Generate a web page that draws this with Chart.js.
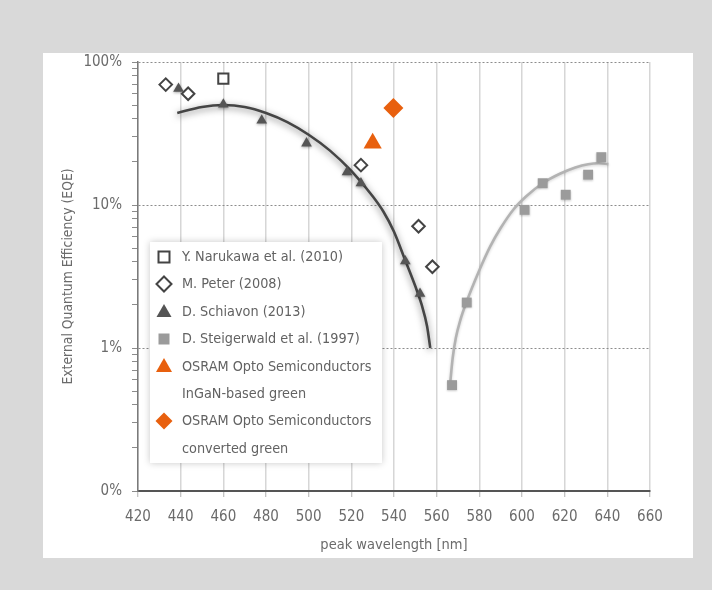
<!DOCTYPE html>
<html>
<head>
<meta charset="utf-8">
<script src="https://cdn.jsdelivr.net/npm/chart.js@4/dist/chart.umd.min.js"></script>
<style>
  html, body { margin: 0; padding: 0; }
  body { width: 712px; height: 590px; background: #d9d9d9; position: relative; overflow: hidden;
         font-family: 'DejaVu Sans Condensed', 'Liberation Sans Narrow', sans-serif; }
  #panel { position: absolute; left: 43px; top: 53px; width: 650px; height: 505px; background: #fff; }
  #chart { position: absolute; left: 0; top: 0; }
  #legend { position: absolute; left: 150px; top: 242px; width: 232px; padding-top: 1px; padding-bottom: 1px;
            background: #fff; box-shadow: 0 0 7px rgba(0,0,0,0.22); }
  .row { position: relative; height: 27.4px; line-height: 27.4px; font-size: 14.3px; color: #626262; padding-left: 32px; white-space: nowrap; }
  .row svg { position: absolute; left: 4px; top: 3.7px; }
</style>
</head>
<body>
<div id="panel"></div>
<canvas id="chart" width="712" height="590"></canvas>
<div id="legend"></div>
<script>
// Series names
const seriesNames = [
  ['Y. Narukawa et al. (2010)'],
  ['M. Peter (2008)'],
  ['D. Schiavon (2013)'],
  ['D. Steigerwald et al. (1997)'],
  ['OSRAM Opto Semiconductors', 'InGaN-based green'],
  ['OSRAM Opto Semiconductors', 'converted green']
];

// Peak wavelength [nm] and EQE [%] per source
const narukawaNm = [460];
const narukawaEqe = [76.5];

const peterNm = [433, 443.5, 524.5, 551.5, 558];
const peterEqe = [69.5, 60, 19, 7.1, 3.7];

const schiavonNm = [439, 460, 478, 499, 518, 524.5, 545.3, 552.2];
const schiavonEqe = [65, 50.5, 39, 27, 17, 14.2, 4.05, 2.4];

const steigerwaldNm = [567.2, 574.1, 601.2, 609.7, 620.5, 631, 637.2];
const steigerwaldEqe = [0.55, 2.08, 9.25, 14.2, 11.8, 16.3, 21.6];

const osramInganNm = [530];
const osramInganEqe = [27];

const osramConvertedNm = [539.7];
const osramConvertedEqe = [47.7];

// Trend curves (InGaN and AlInGaP)
const blueTrendNm = [438.4, 450, 460, 470, 480, 490, 500, 510, 520, 530, 535, 540, 545, 550, 553, 555.5, 557];
const blueTrendEqe = [44, 48.5, 50, 48.5, 44, 38, 31, 24, 17.3, 11.5, 9.0, 6.5, 4.2, 2.7, 2.0, 1.42, 1.0];

const redTrendNm = [566.3, 567.5, 569, 571, 574, 580, 585, 590, 596, 602, 610, 618, 625, 631, 636, 640.5];
const redTrendEqe = [0.56, 0.85, 1.18, 1.55, 2.1, 3.5, 5.1, 6.9, 9.3, 11.5, 14.3, 16.6, 18.3, 19.3, 19.6, 19.3];

// Axes
const xMin = 420, xMax = 660, xStep = 20;
const yTickValues = [0.1, 1, 10, 100];
const yTickLabels = ['0%', '1%', '10%', '100%'];

const FONT = "'DejaVu Sans Condensed', 'Liberation Sans Narrow', sans-serif";
const ORANGE = '#e8600e';
const TEXT = '#6b6b6b';

const pts = (xs, ys) => xs.map((x, i) => ({ x, y: ys[i] }));
const isMajor = v => yTickValues.some(t => Math.abs(t - v) / t < 1e-6);

// Soft drop shadow for selected datasets
const shadowPlugin = {
  id: 'datasetShadow',
  beforeDatasetDraw(chart, args) {
    const s = chart.data.datasets[args.index].shadow;
    if (!s) return;
    const ctx = chart.ctx;
    ctx.save();
    ctx.shadowColor = s.color;
    ctx.shadowBlur = s.blur;
    ctx.shadowOffsetX = 0;
    ctx.shadowOffsetY = s.dy;
  },
  afterDatasetDraw(chart, args) {
    if (chart.data.datasets[args.index].shadow) chart.ctx.restore();
  }
};

const chart = new Chart(document.getElementById('chart'), {
  type: 'scatter',
  data: {
    datasets: [
      { label: seriesNames[0].join(' '), data: pts(narukawaNm, narukawaEqe), order: 1,
        pointStyle: 'rect', pointRadius: 7.2, backgroundColor: '#ffffff', borderColor: '#444444', borderWidth: 2 },
      { label: seriesNames[1].join(' '), data: pts(peterNm, peterEqe), order: 1,
        pointStyle: 'rectRot', pointRadius: 6.3, backgroundColor: '#ffffff', borderColor: '#444444', borderWidth: 2 },
      { label: seriesNames[2].join(' '), data: pts(schiavonNm, schiavonEqe), order: 1,
        pointStyle: 'triangle', pointRadius: 6.2, backgroundColor: '#555555', borderColor: '#555555', borderWidth: 0,
        shadow: { color: 'rgba(0,0,0,0.35)', blur: 3, dy: 1 } },
      { label: seriesNames[3].join(' '), data: pts(steigerwaldNm, steigerwaldEqe), order: 1,
        pointStyle: 'rect', pointRadius: 7, backgroundColor: '#9b9b9b', borderColor: '#9b9b9b', borderWidth: 0,
        shadow: { color: 'rgba(0,0,0,0.2)', blur: 2, dy: 1 } },
      { label: seriesNames[4].join(' '), data: pts(osramInganNm, osramInganEqe), order: 1,
        pointStyle: 'triangle', pointRadius: 10.5, backgroundColor: ORANGE, borderColor: ORANGE, borderWidth: 0 },
      { label: seriesNames[5].join(' '), data: pts(osramConvertedNm, osramConvertedEqe), order: 1,
        pointStyle: 'rectRot', pointRadius: 10, backgroundColor: ORANGE, borderColor: ORANGE, borderWidth: 0 },
      { label: 'InGaN trend', data: pts(blueTrendNm, blueTrendEqe), order: 2,
        showLine: true, pointRadius: 0, borderColor: '#454545', borderWidth: 2.6,
        cubicInterpolationMode: 'monotone', fill: false,
        shadow: { color: 'rgba(0,0,0,0.55)', blur: 7, dy: 2 } },
      { label: 'AlInGaP trend', data: pts(redTrendNm, redTrendEqe), order: 2,
        showLine: true, pointRadius: 0, borderColor: '#b3b3b3', borderWidth: 2.6,
        cubicInterpolationMode: 'monotone', fill: false,
        shadow: { color: 'rgba(0,0,0,0.18)', blur: 3, dy: 1 } }
    ]
  },
  options: {
    responsive: false,
    animation: false,
    events: [],
    layout: { padding: { left: 56, top: 62, right: 62, bottom: 32 } },
    plugins: { legend: { display: false }, tooltip: { enabled: false } },
    scales: {
      x: {
        type: 'linear', min: xMin, max: xMax,
        afterFit(scale) { scale.height = 67; },
        ticks: { stepSize: xStep, padding: 11, color: TEXT, font: { family: FONT, size: 15 } },
        grid: { color: '#d6d6d6', lineWidth: 1.5, tickLength: 6, tickColor: '#b0b0b0', tickWidth: 1 },
        border: { display: true, color: '#555555', width: 2 },
        title: { display: true, text: 'peak wavelength [nm]', color: TEXT, font: { family: FONT, size: 14.5 } }
      },
      y: {
        type: 'logarithmic', min: yTickValues[0], max: yTickValues[yTickValues.length - 1],
        afterFit(scale) { scale.width = 82; },
        afterBuildTicks(scale) {
          const t = [];
          for (let d = 0; d < yTickValues.length - 1; d++) {
            for (let m = 1; m < 10; m++) t.push({ value: yTickValues[d] * m });
          }
          t.push({ value: yTickValues[yTickValues.length - 1] });
          scale.ticks = t;
        },
        ticks: {
          autoSkip: false, padding: 10, color: TEXT, font: { family: FONT, size: 15 },
          callback(value) {
            const i = yTickValues.findIndex(t => Math.abs(t - value) / t < 1e-6);
            return i >= 0 ? yTickLabels[i] : '';
          }
        },
        grid: {
          color: c => (c.tick && isMajor(c.tick.value) && c.tick.value > yTickValues[0]) ? '#8c8c8c' : 'rgba(0,0,0,0)',
          lineWidth: 1, tickLength: 6, tickColor: '#8c8c8c', tickWidth: 1, tickBorderDash: []
        },
        border: { display: true, color: '#7a7a7a', width: 1.5, dash: [2, 2] },
        title: { display: true, text: 'External Quantum Efficiency (EQE)', color: TEXT, font: { family: FONT, size: 13.8 } }
      }
    }
  },
  plugins: [shadowPlugin]
});

// Legend markers
const legendIcons = [
  '<rect x="4.5" y="4.5" width="11" height="11" fill="#fff" stroke="#444" stroke-width="2"/>',
  '<polygon points="10,2.5 17.5,10 10,17.5 2.5,10" fill="#fff" stroke="#444" stroke-width="2"/>',
  '<polygon points="10,3 17.5,16 2.5,16" fill="#555"/>',
  '<rect x="4.5" y="4.5" width="11" height="11" fill="#9b9b9b"/>',
  '<polygon points="10,2 18,16 2,16" fill="' + ORANGE + '"/>',
  '<polygon points="10,1.5 18.5,10 10,18.5 1.5,10" fill="' + ORANGE + '"/>'
];
const legend = document.getElementById('legend');
seriesNames.forEach((lines, i) => {
  lines.forEach((line, j) => {
    const row = document.createElement('div');
    row.className = 'row';
    row.textContent = line;
    if (j === 0) {
      const svg = document.createElementNS('http://www.w3.org/2000/svg', 'svg');
      svg.setAttribute('width', '20');
      svg.setAttribute('height', '20');
      svg.innerHTML = legendIcons[i];
      row.prepend(svg);
    }
    legend.appendChild(row);
  });
});
</script>
</body>
</html>
